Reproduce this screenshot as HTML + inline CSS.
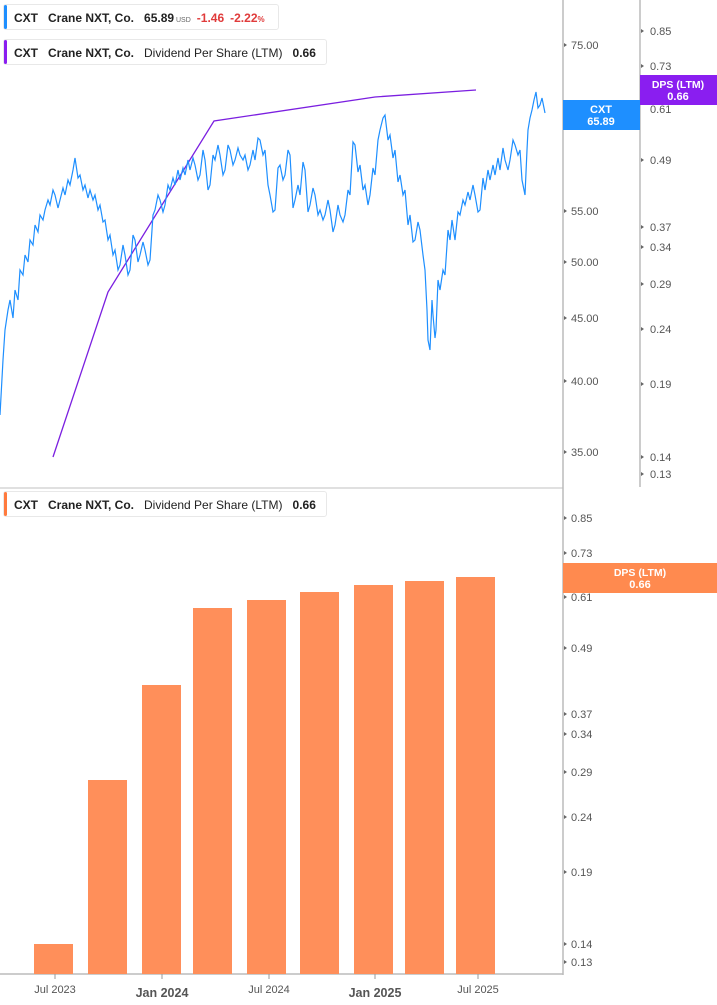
<!DOCTYPE html>
<html><head><meta charset="utf-8"><style>
body{margin:0;width:717px;height:1005px;background:#fff;font-family:"Liberation Sans",sans-serif;overflow:hidden;position:relative}
.lg{position:absolute;left:3px;height:26px;border:1px solid #e8e8e8;border-radius:3px;background:#fff;font-size:12px;font-weight:bold;color:#222;line-height:26px;white-space:nowrap;box-sizing:border-box;padding-left:10px}
.lg:before{content:"";position:absolute;left:0;top:0;bottom:0;width:3px;border-radius:2px;background:var(--c)}
.lg span{margin-right:10px}
.n{font-weight:normal}
svg{position:absolute;left:0;top:0}
</style></head><body>
<svg width="717" height="1005" font-family="Liberation Sans, sans-serif" font-size="11" fill="#555">
<line x1="0" y1="488" x2="563" y2="488" stroke="#e0e0e0" stroke-width="2"/>
<line x1="563" y1="0" x2="563" y2="975" stroke="#bbb" stroke-width="1.5"/>
<line x1="640" y1="0" x2="640" y2="487" stroke="#bbb" stroke-width="1.5"/>
<line x1="0" y1="974" x2="563" y2="974" stroke="#bbb" stroke-width="1.5"/>
<g>
<text x="571" y="49">75.00</text><text x="571" y="215">55.00</text><text x="571" y="266">50.00</text><text x="571" y="322">45.00</text><text x="571" y="385">40.00</text><text x="571" y="456">35.00</text>
<text x="650" y="35">0.85</text><text x="650" y="70">0.73</text><text x="650" y="113">0.61</text><text x="650" y="164">0.49</text><text x="650" y="231">0.37</text><text x="650" y="251">0.34</text><text x="650" y="288">0.29</text><text x="650" y="333">0.24</text><text x="650" y="388">0.19</text><text x="650" y="461">0.14</text><text x="650" y="478">0.13</text>
<text x="571" y="522">0.85</text><text x="571" y="557">0.73</text><text x="571" y="601">0.61</text><text x="571" y="652">0.49</text><text x="571" y="718">0.37</text><text x="571" y="738">0.34</text><text x="571" y="776">0.29</text><text x="571" y="821">0.24</text><text x="571" y="876">0.19</text><text x="571" y="948">0.14</text><text x="571" y="966">0.13</text>
</g>
<g fill="#666">
<path d="M564,43l3,2l-3,2z M564,209l3,2l-3,2z M564,260l3,2l-3,2z M564,316l3,2l-3,2z M564,379l3,2l-3,2z M564,450l3,2l-3,2z"/>
<path d="M641,29l3,2l-3,2z M641,64l3,2l-3,2z M641,158l3,2l-3,2z M641,225l3,2l-3,2z M641,245l3,2l-3,2z M641,282l3,2l-3,2z M641,327l3,2l-3,2z M641,382l3,2l-3,2z M641,455l3,2l-3,2z M641,472l3,2l-3,2z"/>
<path d="M564,516l3,2l-3,2z M564,551l3,2l-3,2z M564,595l3,2l-3,2z M564,646l3,2l-3,2z M564,712l3,2l-3,2z M564,732l3,2l-3,2z M564,770l3,2l-3,2z M564,815l3,2l-3,2z M564,870l3,2l-3,2z M564,942l3,2l-3,2z M564,960l3,2l-3,2z"/>
</g>
<g fill="#ff8f5a">
<rect x="34" y="944" width="39" height="30"/><rect x="88" y="780" width="39" height="194"/><rect x="142" y="685" width="39" height="289"/><rect x="193" y="608" width="39" height="366"/><rect x="247" y="600" width="39" height="374"/><rect x="300" y="592" width="39" height="382"/><rect x="354" y="585" width="39" height="389"/><rect x="405" y="581" width="39" height="393"/><rect x="456" y="577" width="39" height="397"/>
</g>
<g stroke="#999"><line x1="55" y1="974" x2="55" y2="979"/><line x1="162" y1="974" x2="162" y2="979"/><line x1="269" y1="974" x2="269" y2="979"/><line x1="375" y1="974" x2="375" y2="979"/><line x1="478" y1="974" x2="478" y2="979"/></g>
<g text-anchor="middle" font-size="11"><text x="55" y="993">Jul 2023</text><text x="162" y="997" font-weight="bold" font-size="12.5">Jan 2024</text><text x="269" y="993">Jul 2024</text><text x="375" y="997" font-weight="bold" font-size="12.5">Jan 2025</text><text x="478" y="993">Jul 2025</text></g>
<polyline fill="none" stroke="#7b1fe0" stroke-width="1.3" points="53,457 108,292 214,121 375,97 476,90"/>
<polyline fill="none" stroke="#1e8fff" stroke-width="1.2" points="0,415 3,360 5,330 8,310 10,300 13,318 15,290 18,300 20,270 23,275 25,255 28,262 30,240 33,245 35,225 38,232 40,215 43,220 45,210 48,200 50,205 53,190 55,195 58,208 60,200 63,188 65,195 68,180 70,185 73,170 75,158 78,178 80,175 83,190 85,185 88,198 90,190 93,200 95,195 98,210 100,205 103,222 105,220 108,240 110,235 113,255 115,250 118,270 120,265 123,245 125,255 128,275 130,270 133,235 135,240 138,262 140,255 143,242 145,250 148,265 150,260 153,215 155,210 158,195 160,200 163,212 165,205 168,185 170,190 173,178 175,185 178,170 180,180 183,168 185,175 188,160 190,170 193,158 195,165 198,180 200,175 203,150 205,160 208,190 210,185 213,155 215,160 218,145 220,155 223,175 225,170 228,145 230,150 233,165 235,160 238,148 240,155 243,160 245,155 248,170 250,165 253,150 255,160 258,138 260,140 263,155 265,150 268,185 270,195 273,212 275,210 278,168 280,165 283,180 285,175 288,150 290,155 293,208 295,200 298,185 300,195 303,162 305,170 308,212 310,205 313,188 315,195 318,215 320,210 323,220 325,215 328,200 330,210 333,232 335,225 338,205 340,215 343,222 345,215 348,190 350,195 353,142 355,145 358,172 360,165 363,190 365,185 368,205 370,195 373,168 375,175 378,140 380,130 383,118 385,115 388,140 390,135 393,158 395,150 398,182 400,175 403,195 405,190 408,225 410,215 413,242 415,240 418,222 420,230 423,255 425,270 427,310 428,340 430,350 432,300 433,315 435,338 436,330 438,280 440,290 443,270 445,275 448,230 450,240 452,220 455,240 458,212 460,215 463,200 465,205 468,192 470,200 473,185 475,195 478,212 480,210 483,178 485,190 488,170 490,180 493,165 495,175 498,158 500,170 503,148 505,160 508,170 510,160 513,140 515,145 518,155 520,150 522,180 525,195 527,150 528,130 530,118 532,110 534,100 536,92 538,108 540,105 542,98 545,113"/>
<rect x="563" y="100" width="77" height="30" fill="#1e8fff"/>
<text x="601" y="113" text-anchor="middle" fill="#fff" font-weight="bold">CXT</text><text x="601" y="125" text-anchor="middle" fill="#fff" font-weight="bold">65.89</text>
<rect x="640" y="75" width="77" height="30" fill="#8a1ef0"/>
<text x="678" y="88" text-anchor="middle" fill="#fff" font-weight="bold" font-size="10.5">DPS (LTM)</text><text x="678" y="100" text-anchor="middle" fill="#fff" font-weight="bold">0.66</text>
<rect x="563" y="563" width="154" height="30" fill="#ff8a4f"/>
<text x="640" y="576" text-anchor="middle" fill="#fff" font-weight="bold" font-size="10.5">DPS (LTM)</text><text x="640" y="588" text-anchor="middle" fill="#fff" font-weight="bold">0.66</text>
</svg>
<div class="lg" style="top:4px;width:276px;--c:#1e8fff"><span>CXT</span><span>Crane NXT, Co.</span>65.89<span style="font-size:7px;color:#666;font-weight:normal;margin-right:6px"> USD</span><span style="color:#e03b3b;margin-right:6px">-1.46</span><span style="color:#e03b3b">-2.22<small style="font-size:8px">%</small></span></div>
<div class="lg" style="top:39px;width:324px;--c:#8a1ef0"><span>CXT</span><span>Crane NXT, Co.</span><span class="n">Dividend Per Share (LTM)</span>0.66</div>
<div class="lg" style="top:491px;width:324px;--c:#ff7a3d"><span>CXT</span><span>Crane NXT, Co.</span><span class="n">Dividend Per Share (LTM)</span>0.66</div>
</body></html>
